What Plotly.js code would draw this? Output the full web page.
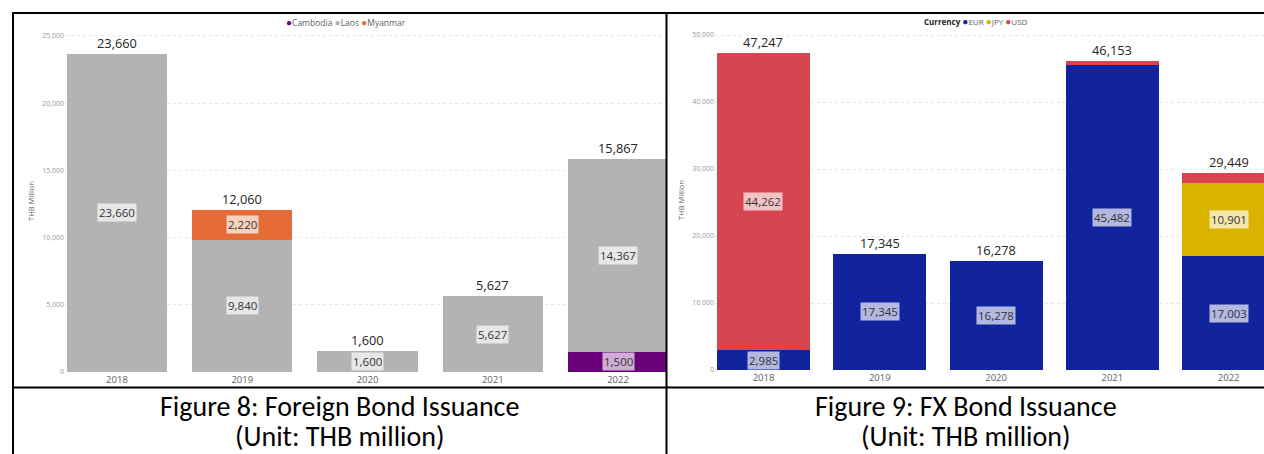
<!DOCTYPE html>
<html>
<head>
<meta charset="utf-8">
<script src="https://cdn.plot.ly/plotly-3.0.1.min.js"></script>
<style>
  html, body { margin: 0; padding: 0; background: #ffffff; }
  #chart { width: 1264px; height: 454px; }
</style>
</head>
<body>
<div id="chart"></div>
<script>
// Issuance years shared by both panels
const years = ['2018', '2019', '2020', '2021', '2022'];

// Figure 8: foreign bond issuance by issuer country (THB million)
const cambodia = [null, null, null, null, 1500];
const laos = [23660, 9840, 1600, 5627, 14367];
const myanmar = [null, 2220, null, null, null];

// Figure 9: FX bond issuance by currency (THB million)
const eur = [2985, 17345, 16278, 45482, 17003];
const jpy = [null, null, null, null, 10901];
const usd = [44262, null, null, 671, 1545];

const W = 1264, H = 454;
const px = v => v / W;          // horizontal pixel -> paper fraction
const py = v => 1 - v / H;      // vertical pixel -> paper fraction

const FONT = "'Open Sans', sans-serif";
const CAPTION_FONT = "Calibri, Carlito, Lato, sans-serif";

const colors = {
  Cambodia: '#6B007B',
  Laos: '#B3B3B3',
  Myanmar: '#E66C37',
  EUR: '#12239E',
  JPY: '#D9B300',
  USD: '#D64550'
};

const panels = [
  {
    xa: 'x', ya: 'y',
    series: [['Cambodia', cambodia], ['Laos', laos], ['Myanmar', myanmar]],
    yMax: 25446, dtick: 5000
  },
  {
    xa: 'x2', ya: 'y2',
    series: [['EUR', eur], ['JPY', jpy], ['USD', usd]],
    yMax: 50746, dtick: 10000
  }
];

const fmt = v => v.toLocaleString('en-US');

const traces = [];
const annotations = [];

panels.forEach(p => {
  const base = years.map(() => 0);
  p.series.forEach(([name, vals]) => {
    traces.push({
      type: 'bar',
      name: name,
      x: years,
      y: vals,
      xaxis: p.xa,
      yaxis: p.ya,
      marker: { color: colors[name], line: { width: 0 } },
      showlegend: false,
      hoverinfo: 'x+y+name'
    });
    // value tag in the middle of each segment tall enough to hold it
    vals.forEach((v, i) => {
      if (v && v / p.yMax > 0.05) {
        annotations.push({
          xref: p.xa, yref: p.ya,
          x: i, y: base[i] + v / 2,
          xanchor: 'center', yanchor: 'middle',
          text: fmt(v),
          showarrow: false,
          bgcolor: 'rgba(255,255,255,0.68)',
          borderpad: 1,
          font: { family: FONT, size: 11.5, color: '#333333' }
        });
      }
      if (v) base[i] += v;
    });
  });
  // stacked totals above each bar
  base.forEach((t, i) => {
    annotations.push({
      xref: p.xa, yref: p.ya,
      x: i, y: t,
      xanchor: 'center', yanchor: 'bottom',
      text: fmt(t),
      showarrow: false,
      font: { family: FONT, size: 12.8, color: '#252423' }
    });
  });
});

// compact legends with round markers
const dot = c => `<span style="color:${c};font-size:10px">●</span>`;
annotations.push({
  xref: 'paper', yref: 'paper',
  x: px(346), y: py(22), xanchor: 'center', yanchor: 'middle',
  text: `${dot(colors.Cambodia)}Cambodia ${dot(colors.Laos)}Laos ${dot(colors.Myanmar)}Myanmar`,
  showarrow: false,
  font: { family: FONT, size: 8.5, color: '#605E5C' }
});
annotations.push({
  xref: 'paper', yref: 'paper',
  x: px(976), y: py(21), xanchor: 'center', yanchor: 'middle',
  text: `<b style="color:#252423">Currency</b> ${dot(colors.EUR)}EUR ${dot(colors.JPY)}JPY ${dot(colors.USD)}USD`,
  showarrow: false,
  font: { family: FONT, size: 8, color: '#605E5C' }
});

// table captions
[
  [339.5, 'Figure 8: Foreign Bond Issuance', '(Unit: THB million)'],
  [965.5, 'Figure 9: FX Bond Issuance', '(Unit: THB million)']
].forEach(([cx, l1, l2]) => {
  annotations.push({
    xref: 'paper', yref: 'paper', x: px(cx), y: py(406),
    xanchor: 'center', yanchor: 'middle',
    text: l1, showarrow: false,
    font: { family: CAPTION_FONT, size: 28, color: '#000000' }
  });
  annotations.push({
    xref: 'paper', yref: 'paper', x: px(cx), y: py(436),
    xanchor: 'center', yanchor: 'middle',
    text: l2, showarrow: false,
    font: { family: CAPTION_FONT, size: 28, color: '#000000' }
  });
});

const xAxis = (domain, range) => ({
  type: 'category',
  domain: domain,
  range: range,
  showgrid: false,
  zeroline: false,
  showline: false,
  ticks: '',
  tickfont: { family: FONT, size: 9.5, color: '#605E5C' },
  fixedrange: true
});

const yAxis = (domain, max, dtick, anchor) => ({
  anchor: anchor,
  domain: domain,
  range: [0, max],
  dtick: dtick,
  tick0: 0,
  tickformat: ',d',
  showgrid: true,
  gridcolor: '#E8E8E8',
  griddash: 'dot',
  gridwidth: 1,
  zeroline: false,
  showline: false,
  ticks: '',
  tickfont: { family: FONT, size: 7, color: '#999999' },
  title: { text: 'THB Million', font: { family: FONT, size: 7.5, color: '#605E5C' }, standoff: 6 },
  fixedrange: true
});

// border lines of the two-cell table
const line = (x0, y0, x1, y1) => ({
  type: 'line', xref: 'paper', yref: 'paper',
  x0: px(x0), y0: py(y0), x1: px(x1), y1: py(y1),
  line: { color: '#000000', width: 2 },
  layer: 'above'
});

const layout = {
  width: W,
  height: H,
  margin: { l: 0, r: 0, t: 0, b: 0 },
  paper_bgcolor: '#ffffff',
  plot_bgcolor: '#ffffff',
  barmode: 'stack',
  bargap: 0.2,
  showlegend: false,
  font: { family: FONT },
  xaxis: xAxis([px(65), px(667)], [-0.415, 4.391]),
  yaxis: yAxis([py(372), py(30)], panels[0].yMax, panels[0].dtick, 'x'),
  xaxis2: Object.assign(xAxis([px(715), 1], [-0.417, 4.304]), { anchor: 'y2' }),
  yaxis2: yAxis([py(370), py(30)], panels[1].yMax, panels[1].dtick, 'x2'),
  annotations: annotations,
  shapes: [
    line(12, 13, 1264, 13),
    line(13, 12, 13, 454),
    line(666.5, 12, 666.5, 454),
    line(12, 387.5, 1264, 387.5)
  ]
};

Plotly.newPlot('chart', traces, layout, { displayModeBar: false, staticPlot: true });
</script>
</body>
</html>
